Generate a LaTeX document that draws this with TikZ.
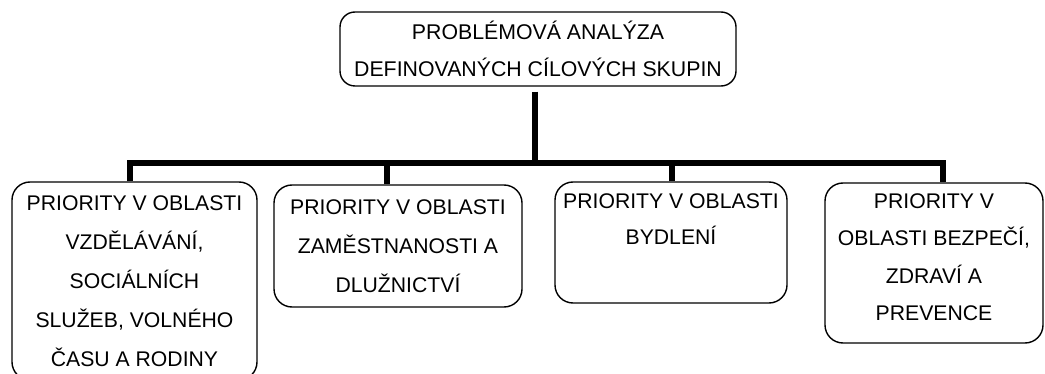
\documentclass[tikz,border=0pt]{standalone}
\usepackage{fontspec}
\setmainfont{Liberation Sans}
\newcommand\boxfont{\fontsize{21.2}{39}\selectfont}
\newcommand\topfont{\fontsize{21.3}{37}\selectfont}
\begin{document}
\begin{tikzpicture}[x=1pt,y=-1pt,
  box/.style={draw, line width=1.4pt, rounded corners=18pt, align=center, inner sep=0pt, font=\boxfont, fill=white},
  conn/.style={line width=6pt, line join=miter, line cap=butt}]
\fill[white] (0,0) rectangle (1045,374);
\useasboundingbox (0,0) rectangle (1045,374);
\node[box, rounded corners=15pt, font=\topfont, minimum width=396pt, minimum height=74pt] (top) at (538,49)
  {PROBLÉMOVÁ ANALÝZA\\DEFINOVANÝCH CÍLOVÝCH SKUPIN};
\node[box, minimum width=245pt, minimum height=198pt] (b1) at (134.5,281)
  {PRIORITY V OBLASTI\\VZDĚLÁVÁNÍ,\\SOCIÁLNÍCH\\SLUŽEB, VOLNÉHO\\ČASU A RODINY};
\node[box, minimum width=248pt, minimum height=122pt] (b2) at (398,246)
  {PRIORITY V OBLASTI\\ZAMĚSTNANOSTI A\\DLUŽNICTVÍ};
\node[box, minimum width=232pt, minimum height=121pt, font=\fontsize{21.2}{36}\selectfont] (b3) at (671,242.5)
  {PRIORITY V OBLASTI\\BYDLENÍ\\\strut};
\node[box, minimum width=218pt, minimum height=160pt, text depth=12pt, font=\fontsize{21.2}{37.5}\selectfont] (b4) at (934,263)
  {PRIORITY V\\OBLASTI BEZPEČÍ,\\ZDRAVÍ A\\PREVENCE};
\coordinate (bus) at (0,163);
\draw[conn] ([xshift=-3pt,yshift=-5pt]top.south) -- ([xshift=-3pt]top.south |- bus);
\draw[conn] ([xshift=-4.5pt]b1.north) -- ([xshift=-4.5pt]b1.north |- bus) -- ([xshift=9pt]b4.north |- bus) -- ([xshift=9pt]b4.north);
\draw[conn] ([xshift=-11pt]b2.north) -- ([xshift=-11pt]b2.north |- bus);
\draw[conn] ([xshift=1pt]b3.north) -- ([xshift=1pt]b3.north |- bus);
\end{tikzpicture}
\end{document}
